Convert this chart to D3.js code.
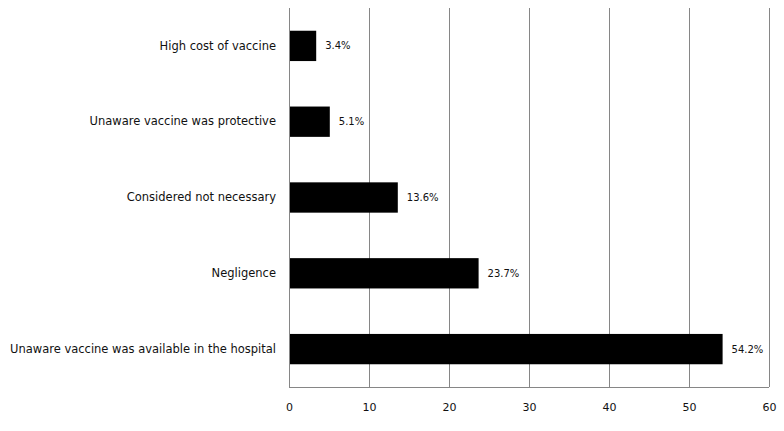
<!DOCTYPE html>
<html>
<meta charset="utf-8">
<head>
  <script src="https://d3js.org/d3.v7.js"></script>
  <style>
    body { margin: 0; background: #fff; }
    text { font-family: "DejaVu Sans", Verdana, sans-serif; fill: #111; }
  </style>
</head>
<body>
  <svg id="graph" width="784" height="431"></svg>
  <script>
    // reasons for not being vaccinated, top to bottom
    var reasons = ["High cost of vaccine", "Unaware vaccine was protective",
                   "Considered not necessary", "Negligence",
                   "Unaware vaccine was available in the hospital"];
    var percents = [3.4, 5.1, 13.6, 23.7, 54.2];
    var xTicks = [0, 10, 20, 30, 40, 50, 60];

    var svg = d3.select("svg#graph")
    var margin = {top: 8, right: 15, bottom: 44, left: 289}
    var width = +svg.attr("width") - margin.left - margin.right
    var height = +svg.attr("height") - margin.top - margin.bottom
    var g = svg.append("g").attr("transform", `translate(${margin.left}, ${margin.top})`);

    var xScale = d3.scaleLinear().domain([0, 60]).range([0, width]);
    var yScale = d3.scaleBand().domain(reasons).range([0, height]).paddingInner(0.6).paddingOuter(0.3);

    // vertical gridlines
    g.selectAll("line.grid")
      .data(xTicks)
      .enter()
      .append("line")
      .attr("class", "grid")
      .attr("x1", d => Math.round(xScale(d)) + 0.5)
      .attr("x2", d => Math.round(xScale(d)) + 0.5)
      .attr("y1", 0)
      .attr("y2", height)
      .attr("stroke", "#868686")
      .attr("stroke-width", 1);

    // bottom axis line
    g.append("line")
      .attr("x1", 0).attr("x2", width)
      .attr("y1", Math.round(height) + 0.5).attr("y2", Math.round(height) + 0.5)
      .attr("stroke", "#868686");

    var xAxis = d3.axisBottom(xScale).tickValues(xTicks).tickSize(0).tickPadding(16);
    var ax = g.append("g").attr("transform", `translate(0, ${height})`).call(xAxis);
    ax.select(".domain").remove();
    ax.selectAll("text").style("font-size", "11px").style("font-family", '"DejaVu Sans", Verdana, sans-serif').attr("fill", "#111");

    var yAxis = d3.axisLeft(yScale).tickSize(0).tickPadding(13);
    var ay = g.append("g").call(yAxis);
    ay.select(".domain").remove();
    ay.selectAll("text").style("font-size", "11.5px").style("font-family", '"DejaVu Sans", Verdana, sans-serif').attr("fill", "#111");

    var data = reasons.map((r, i) => ({reason: r, value: percents[i]}));

    g.selectAll("rect.bar")
      .data(data)
      .enter()
      .append("rect")
      .attr("class", "bar")
      .attr("x", 1)
      .attr("y", d => yScale(d.reason))
      .attr("width", d => xScale(d.value) - 1)
      .attr("height", yScale.bandwidth())
      .attr("fill", "#000");

    g.selectAll("text.val")
      .data(data)
      .enter()
      .append("text")
      .attr("class", "val")
      .attr("x", d => xScale(d.value) + 9)
      .attr("y", d => yScale(d.reason) + yScale.bandwidth() / 2)
      .attr("dy", "0.35em")
      .style("font-size", "10px")
      .text(d => d.value.toFixed(1) + "%");
  </script>
</body>
</html>
